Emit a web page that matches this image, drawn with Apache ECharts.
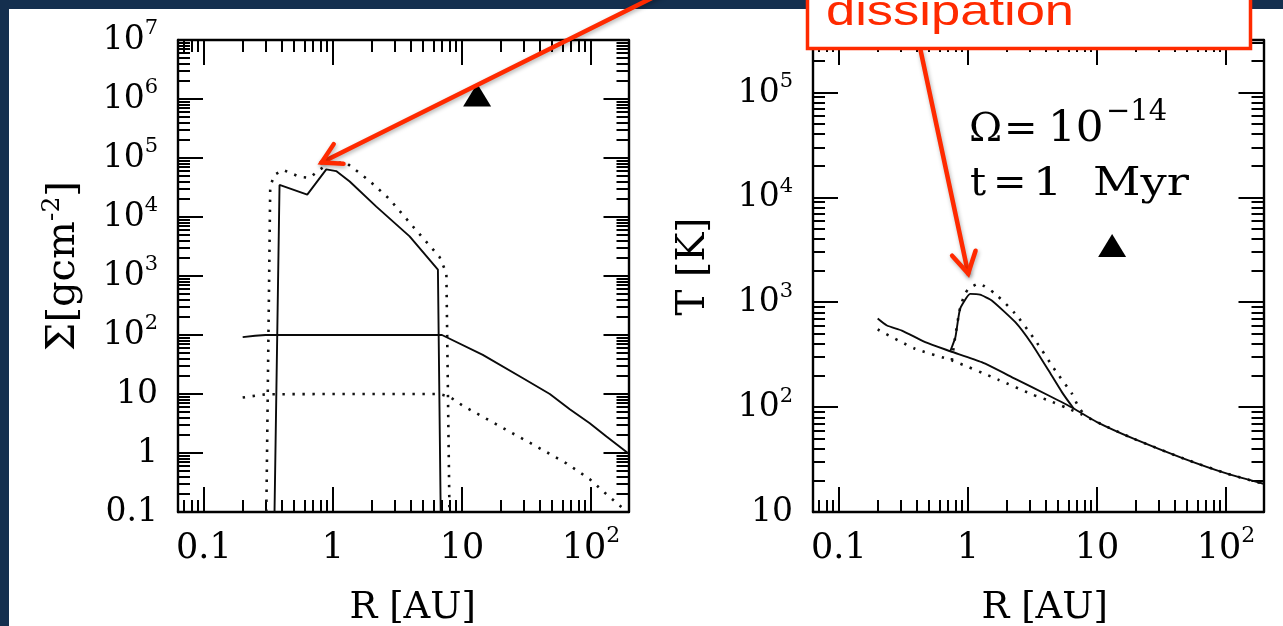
<!DOCTYPE html>
<html>
<head>
<meta charset="utf-8">
<script src="https://cdn.jsdelivr.net/npm/echarts@6.0.0/dist/echarts.min.js"></script>
<style>
  html, body { margin: 0; padding: 0; background: #142f4e; }
  #chart { width: 1283px; height: 626px; }
</style>
</head>
<body>
<div id="chart"></div>
<script>
// ---- Left panel: surface density Σ [g cm^-2] versus radius R [AU] ----
const sigmaFlatR        = [0.2, 0.25, 0.3, 1, 3, 7, 14.5, 29.7, 47.9, 68.4, 97.7, 131.6, 195];
const sigmaFlat         = [92, 97, 100, 100, 100, 100, 46, 18.5, 10, 5.5, 3.2, 1.9, 0.98];
const sigmaFlatDottedR  = [0.2, 0.3, 1, 6.7, 8.0, 10.2, 22.1, 33.4, 64.4, 97.7, 131.6, 162, 190];
const sigmaFlatDotted   = [8.7, 9.9, 10, 10, 9.0, 6.3, 2.46, 1.5, 0.67, 0.36, 0.2, 0.136, 0.1];
const sigmaPeakR        = [0.353, 0.386, 0.633, 0.889, 1.06, 1.35, 2.17, 3.93, 6.51, 6.84];
const sigmaPeak         = [0.1, 3.5e4, 2.4e4, 6.4e4, 6.0e4, 4.0e4, 1.5e4, 4.7e3, 1280, 0.1];
const sigmaPeakDottedR  = [0.305, 0.327, 0.353, 0.41, 0.552, 0.66, 0.79, 0.94, 1.27, 1.92, 2.75, 4.17, 6.7, 7.57, 8.0];
const sigmaPeakDotted   = [0.1, 3.3e4, 5.2e4, 6.3e4, 4.8e4, 4.6e4, 6.3e4, 8.3e4, 8.3e4, 4.1e4, 2.0e4, 6.9e3, 2.1e3, 1.12e3, 0.1];
const sigmaMarkerR = [13.1];
const sigmaMarker  = [1.17e6];

// ---- Right panel: temperature T [K] versus radius R [AU] ----
const tempLowR         = [0.2, 0.236, 0.308, 0.467, 0.73, 1.28, 2.33, 4.22, 6.6, 10, 19.2, 47, 102, 195];
const tempLow          = [700, 600, 537, 416, 341, 268, 186, 129, 97, 72, 50, 32.3, 23.2, 18.6];
const tempLowDottedR   = [0.2, 0.39, 0.75, 1.73, 3.2, 4.2, 5.85, 7.5, 10, 19.2, 47, 102, 195];
const tempLowDotted    = [550, 360, 279, 182, 131, 116, 98, 86, 72, 50, 32.3, 23.2, 18.6];
const tempPeakR        = [0.73, 0.80, 0.87, 1.04, 1.24, 1.53, 2.33, 3.13, 4.22, 5.35, 6.6];
const tempPeak         = [341, 464, 865, 1200, 1180, 1040, 645, 400, 223, 139, 97];
const tempPeakDottedR  = [0.75, 0.80, 0.87, 0.95, 1.01, 1.21, 1.63, 2.33, 3.33, 4.75, 6.4, 7.2, 8.0];
const tempPeakDotted   = [279, 480, 880, 1200, 1340, 1500, 1200, 776, 432, 224, 134, 100, 85];
const tempMarkerR = [13.1];
const tempMarker  = [3.47e3];

// ---- Axis ranges and tick labels ----
const rRange     = [0.0631, 195];
const sigmaRange = [0.1, 1e7];
const tempRange  = [10, 316228];
const rTicks         = [0.1, 1, 10, 100];
const rTickText      = ['0.1', '1', '10', '10^2'];
const sigmaTicks     = [0.1, 1, 10, 100, 1e3, 1e4, 1e5, 1e6, 1e7];
const sigmaTickText  = ['0.1', '1', '10', '10^2', '10^3', '10^4', '10^5', '10^6', '10^7'];
const tempTicks      = [10, 100, 1e3, 1e4, 1e5];
const tempTickText   = ['10', '10^2', '10^3', '10^4', '10^5'];

// arrow targets, in data coordinates of each panel
const sigmaArrowTarget = [0.817, 8.4e4];
const tempArrowTarget  = [1.005, 1876];

const INK = '#000';
const RED = '#ff2a00';
const SERIF = '"DejaVu Serif", "Liberation Serif", serif';

function zip(xs, ys) { return xs.map((x, i) => [x, ys[i]]); }

function tickFormatter(ticks, texts) {
  return function (v) {
    for (let i = 0; i < ticks.length; i++) {
      if (Math.abs(Math.log10(v) - Math.log10(ticks[i])) < 1e-6) {
        const t = texts[i];
        const k = t.indexOf('^');
        return k < 0 ? '{b|' + t + '}' : '{b|' + t.slice(0, k) + '}{s|' + t.slice(k + 1) + '}';
      }
    }
    return '';
  };
}

function labelRich(size) {
  return {
    b: { fontFamily: SERIF, fontSize: size, lineHeight: size + 1, verticalAlign: 'bottom', color: INK },
    s: { fontFamily: SERIF, fontSize: Math.round(size * 0.64), lineHeight: Math.round(size * 0.64),
         padding: [0, 0, Math.round(size * 0.67), 0], color: INK }
  };
}

// long ticks at each decade, short ticks at 2..9 inside every decade
function frameAxis(gridIndex, position, range, ticks, texts, extra) {
  const withLabels = !!texts;
  return Object.assign({
    type: 'log', logBase: 10, gridIndex: gridIndex, position: position,
    min: range[0], max: range[1],
    axisLine: { show: true, onZero: false, lineStyle: { color: INK, width: 2.4 } },
    axisTick: { show: true, inside: true, length: 25, customValues: ticks, lineStyle: { color: INK, width: 2 } },
    minorTick: { show: true, splitNumber: 9, length: 12, lineStyle: { color: INK, width: 2 } },
    splitLine: { show: false },
    minorSplitLine: { show: false },
    axisLabel: withLabels ? {
      show: true, customValues: ticks, formatter: tickFormatter(ticks, texts),
      margin: 20, rich: labelRich(33)
    } : { show: false }
  }, extra || {});
}

function solid(name, xi, yi, data, smooth) {
  return { name, type: 'line', xAxisIndex: xi, yAxisIndex: yi, data, symbol: 'none', smooth: smooth || false,
    lineStyle: { color: '#0a0a0a', width: 1.9 }, z: 3 };
}
function dotted(name, xi, yi, data, smooth) {
  return { name, type: 'line', xAxisIndex: xi, yAxisIndex: yi, data, symbol: 'none', smooth: smooth || false,
    lineStyle: { color: '#111', width: 2.6, type: [2.4, 7.6] }, z: 3 };
}
function marker(name, xi, yi, data) {
  return { name, type: 'scatter', xAxisIndex: xi, yAxisIndex: yi, data, symbol: 'triangle',
    symbolSize: [28, 23], itemStyle: { color: '#000', opacity: 1 }, z: 4 };
}

const xLabel = (ticks, texts) => ({
  show: true, customValues: ticks, formatter: tickFormatter(ticks, texts), margin: 18, rich: labelRich(35)
});

const chart = echarts.init(document.getElementById('chart'), null, { renderer: 'canvas', width: 1283, height: 626 });

const option = {
  animation: false,
  backgroundColor: '#142f4e',
  grid: [
    { left: 178, top: 40, width: 450.5, height: 472, outerBoundsMode: 'none', containLabel: false },
    { left: 813, top: 40, width: 450.5, height: 472, outerBoundsMode: 'none', containLabel: false }
  ],
  xAxis: [
    frameAxis(0, 'bottom', rRange, rTicks, rTickText, {
      name: 'R [AU]', nameLocation: 'middle', nameGap: 78,
      nameTextStyle: { fontFamily: SERIF, fontSize: 37, color: INK, padding: [0, 0, 0, 19] },
      axisLabel: xLabel(rTicks, rTickText)
    }),
    frameAxis(0, 'top', rRange, rTicks, null),
    frameAxis(1, 'bottom', rRange, rTicks, rTickText, {
      name: 'R [AU]', nameLocation: 'middle', nameGap: 78,
      nameTextStyle: { fontFamily: SERIF, fontSize: 37, color: INK, padding: [0, 0, 0, 13] },
      axisLabel: xLabel(rTicks, rTickText)
    }),
    frameAxis(1, 'top', rRange, rTicks, null)
  ],
  yAxis: [
    frameAxis(0, 'left', sigmaRange, sigmaTicks, sigmaTickText, {
      name: '{n|Σ[gcm}{p|-2}{n|]}', nameLocation: 'middle', nameGap: 94, nameRotate: 90,
      nameTextStyle: {
        padding: [0, 0, 0, 20],
        rich: {
          n: { fontFamily: SERIF, fontSize: 40, lineHeight: 41, verticalAlign: 'bottom', color: INK },
          p: { fontFamily: SERIF, fontSize: 25, lineHeight: 25, padding: [0, 0, 22, 0], color: INK }
        }
      }
    }),
    frameAxis(0, 'right', sigmaRange, sigmaTicks, null),
    frameAxis(1, 'left', tempRange, tempTicks, tempTickText, {
      name: 'T [K]', nameLocation: 'middle', nameGap: 100, nameRotate: 90,
      nameTextStyle: { fontFamily: SERIF, fontSize: 39, color: INK, padding: [0, 0, 0, 19] }
    }),
    frameAxis(1, 'right', tempRange, tempTicks, null)
  ],
  series: [
    solid('Σ flat', 0, 0, zip(sigmaFlatR, sigmaFlat)),
    dotted('Σ flat (dotted)', 0, 0, zip(sigmaFlatDottedR, sigmaFlatDotted)),
    solid('Σ peak', 0, 0, zip(sigmaPeakR, sigmaPeak)),
    dotted('Σ peak (dotted)', 0, 0, zip(sigmaPeakDottedR, sigmaPeakDotted)),
    marker('Σ marker', 0, 0, zip(sigmaMarkerR, sigmaMarker)),
    dotted('T low (dotted)', 2, 2, zip(tempLowDottedR, tempLowDotted), 0.2),
    solid('T low', 2, 2, zip(tempLowR, tempLow), 0.2),
    dotted('T peak (dotted)', 2, 2, zip(tempPeakDottedR, tempPeakDotted), 0.2),
    solid('T peak', 2, 2, zip(tempPeakR, tempPeak), 0.15),
    marker('T marker', 2, 2, zip(tempMarkerR, tempMarker))
  ]
};
chart.setOption(option);

// ---- annotations: parameter text, red call-out box and arrows ----
function arrowHead(tip, tail, len, ang) {
  const a = Math.atan2(tail[1] - tip[1], tail[0] - tip[0]);
  return [
    [tip[0] + len * Math.cos(a - ang), tip[1] + len * Math.sin(a - ang)],
    tip,
    [tip[0] + len * Math.cos(a + ang), tip[1] + len * Math.sin(a + ang)]
  ];
}
const arrowStyle = {
  stroke: RED, fill: null, lineWidth: 4.5, lineCap: 'round', lineJoin: 'miter',
  shadowBlur: 4, shadowColor: 'rgba(0,0,0,0.3)', shadowOffsetX: 1, shadowOffsetY: 2
};
const tipL = chart.convertToPixel({ xAxisIndex: 0, yAxisIndex: 0 }, sigmaArrowTarget);
const tipR = chart.convertToPixel({ xAxisIndex: 2, yAxisIndex: 2 }, tempArrowTarget);
const tailL = [662, -7];
const tailR = [920.5, 50];

function serifText(text, x, y, size, extra) {
  return Object.assign({
    type: 'text', x: x, y: y, z: 10, silent: true,
    style: { text: text, font: size + 'px ' + SERIF, fill: INK, verticalAlign: 'middle', align: 'left' }
  }, extra || {});
}

chart.setOption({
  graphic: {
    elements: [
      { type: 'rect', shape: { x: 9, y: 9, width: 1274, height: 617 }, style: { fill: '#fff' }, z: -100, silent: true },

      serifText('Ω', 969, 131, 40),
      serifText('=', 1004, 131, 40),
      serifText('10', 1048, 130, 42, { scaleX: 1.04 }),
      serifText('−14', 1106, 112, 29),
      serifText('t', 970, 184.5, 40),
      serifText('=', 993, 184.5, 40),
      serifText('1', 1033, 184.5, 40, { scaleX: 1.15 }),
      serifText('Myr', 1093, 184.5, 40, { scaleX: 1.16 }),

      { type: 'polyline', shape: { points: [tailL, tipL] }, style: arrowStyle, z: 100, silent: true },
      { type: 'polyline', shape: { points: arrowHead(tipL, tailL, 22, Math.PI / 6) }, style: arrowStyle, z: 100, silent: true },
      { type: 'polyline', shape: { points: [tailR, tipR] }, style: arrowStyle, z: 100, silent: true },
      { type: 'polyline', shape: { points: arrowHead(tipR, tailR, 24, Math.PI / 6) }, style: arrowStyle, z: 100, silent: true },

      { type: 'rect', shape: { x: 807.5, y: -10, width: 443, height: 58.5 },
        style: { fill: '#fff', stroke: RED, lineWidth: 3.5 }, z: 110, silent: true },
      { type: 'text', x: 826, y: 13.7, scaleX: 1.25, z: 111, silent: true,
        style: { text: 'dissipation', font: '42px "Liberation Sans", Arial, sans-serif', fill: RED, verticalAlign: 'middle', align: 'left' } }
    ]
  }
});
</script>
</body>
</html>
